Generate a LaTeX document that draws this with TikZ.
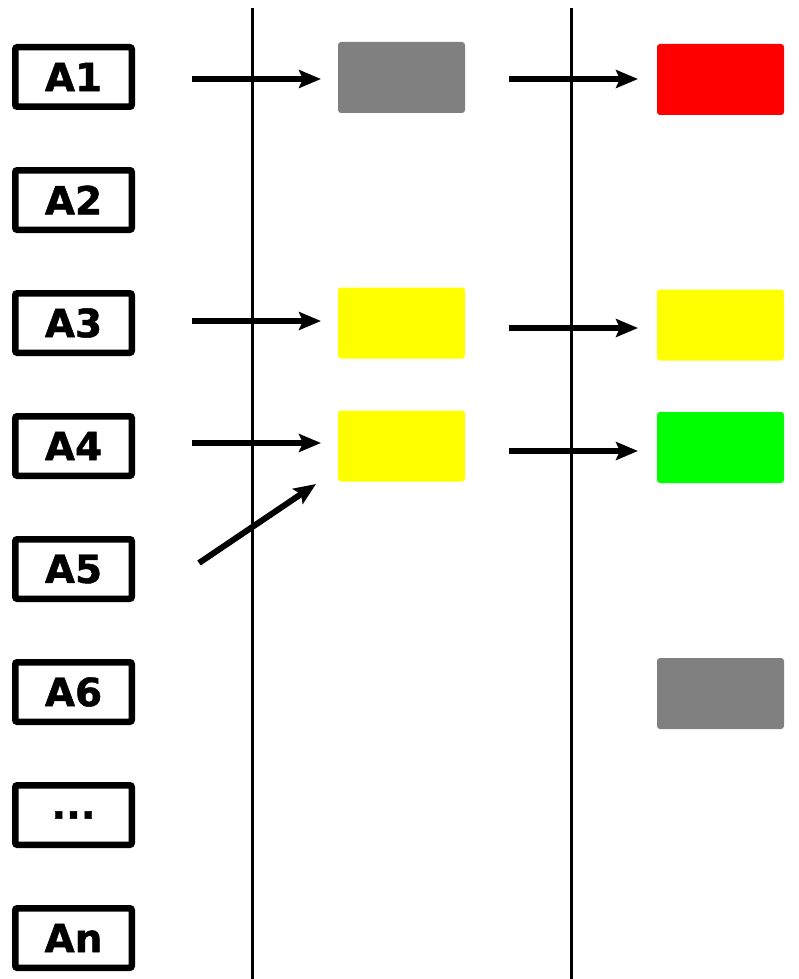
\documentclass[tikz,border=0pt]{standalone}
\usepackage{fontspec}
\setmainfont{DejaVu Sans}[BoldFeatures={FakeBold=1.2}]
\usetikzlibrary{arrows.meta}
\begin{document}
\begin{tikzpicture}[x=1pt,y=-1pt,
  abox/.style={draw=black,line width=6.5pt,rounded corners=2pt,minimum width=116.5pt,minimum height=59.5pt,inner sep=0pt,font=\fontsize{39}{40}\selectfont\bfseries},
  cbox/.style={rounded corners=3pt,minimum width=127pt,minimum height=71pt,inner sep=0pt},
  arr/.style={line width=6pt,-{Stealth[length=22pt,width=18pt,inset=4pt]}},
  vline/.style={line width=3pt}]
\definecolor{ygl}{RGB}{255,255,0}
\definecolor{gry}{RGB}{128,128,128}
\definecolor{grn}{RGB}{0,255,0}
\definecolor{rd}{RGB}{255,0,0}
\useasboundingbox (0,0) rectangle (798,979);
\draw[vline] (252,8) -- (252,979);
\draw[vline] (571,8) -- (571,979);
\node[abox] (A1) at (73.5,77) {A1};
\node[abox] (A2) at (73.5,200) {A2};
\node[abox] (A3) at (73.5,323) {A3};
\node[abox] (A4) at (73.5,446) {A4};
\node[abox] (A5) at (73.5,569) {A5};
\node[abox] (A6) at (73.5,692) {A6};
\node[abox] (Ad) at (73.5,815) {...};
\node[abox] (An) at (73.5,938) {An};
\node[cbox,fill=gry] (g1) at (401.5,77.5) {};
\node[cbox,fill=rd] (r2) at (720.5,79.5) {};
\node[cbox,fill=ygl] (y1) at (401.5,323) {};
\node[cbox,fill=ygl] (y2) at (720.5,325) {};
\node[cbox,fill=ygl] (y3) at (401.5,446) {};
\node[cbox,fill=grn] (gr2) at (720.5,447.5) {};
\node[cbox,fill=gry] (g6) at (720.5,693.5) {};
\coordinate (s1) at (192,79);
\coordinate (e1) at (321,79);
\coordinate (s1b) at (509,79);
\coordinate (e1b) at (638,79);
\coordinate (s3) at (192,321);
\coordinate (e3) at (321,321);
\coordinate (s3b) at (509,328);
\coordinate (e3b) at (638,328);
\coordinate (s4) at (192,443);
\coordinate (e4) at (321,443);
\coordinate (s4b) at (509,451);
\coordinate (e4b) at (638,451);
\coordinate (s5) at (199,563);
\coordinate (e5) at (316,484);
\draw[arr] (s1) -- (e1);
\draw[arr] (s1b) -- (e1b);
\draw[arr] (s3) -- (e3);
\draw[arr] (s3b) -- (e3b);
\draw[arr] (s4) -- (e4);
\draw[arr] (s4b) -- (e4b);
\draw[arr] (s5) -- (e5);
\end{tikzpicture}
\end{document}
